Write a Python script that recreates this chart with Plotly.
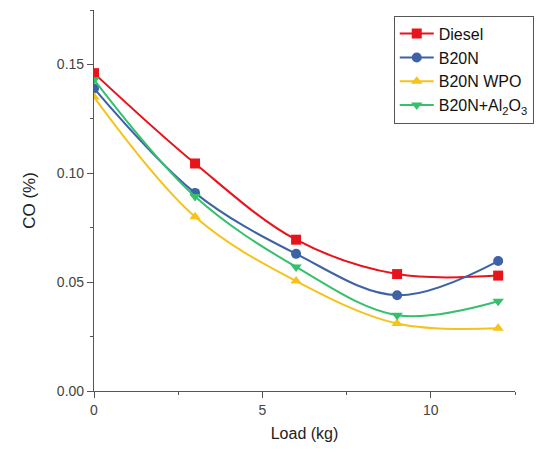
import plotly.graph_objects as go

load = [0, 3, 6, 9, 12]
diesel = [0.146, 0.1045, 0.0695, 0.0537, 0.053]
b20n = [0.139, 0.091, 0.063, 0.044, 0.0597]
b20n_wpo = [0.135, 0.080, 0.0505, 0.031, 0.0288]
b20n_al2o3 = [0.143, 0.0893, 0.057, 0.0348, 0.0412]

series = [
    ("Diesel", diesel, "#e8141c", "square"),
    ("B20N", b20n, "#3d63a6", "circle"),
    ("B20N WPO", b20n_wpo, "#f7c21a", "triangle-up"),
    ("B20N+Al<sub>2</sub>O<sub>3</sub>", b20n_al2o3, "#35c06c", "triangle-down"),
]

fig = go.Figure()
for name, vals, col, sym in series:
    fig.add_trace(go.Scatter(
        x=load, y=vals, name=name, mode="lines+markers",
        line=dict(color=col, width=2, shape="spline", smoothing=1),
        marker=dict(color=col, symbol=sym, size=10),
    ))

axis_common = dict(
    showline=True, linecolor="#555", linewidth=1.2, showgrid=False, zeroline=False,
    ticks="outside", ticklen=6, tickcolor="#555",
    tickfont=dict(family="Arial, Liberation Sans", size=14, color="#444"),
    minor=dict(ticks="outside", ticklen=3, tickcolor="#555"),
)

fig.update_layout(
    width=539, height=452,
    margin=dict(l=94, r=24, t=10, b=61, autoexpand=False),
    paper_bgcolor="white", plot_bgcolor="white",
    xaxis=dict(range=[0, 12.5], dtick=5, minor_dtick=2.5,
               title=dict(text="Load (kg)", font=dict(family="Arial, Liberation Sans", size=16, color="#222"), standoff=10),
               **axis_common),
    yaxis=dict(range=[0, 0.175], dtick=0.05, minor_dtick=0.025, tickformat=".2f",
               title=dict(text="CO (%)", font=dict(family="Arial, Liberation Sans", size=17, color="#222"), standoff=16),
               **axis_common),
    legend=dict(x=0.712, y=0.985, xanchor="left", yanchor="top",
                bordercolor="#555", borderwidth=1, bgcolor="white",
                font=dict(family="Arial, Liberation Sans", size=16, color="#111"),
                tracegroupgap=0, itemwidth=34),
    showlegend=True,
)

fig.write_html("out.html")
